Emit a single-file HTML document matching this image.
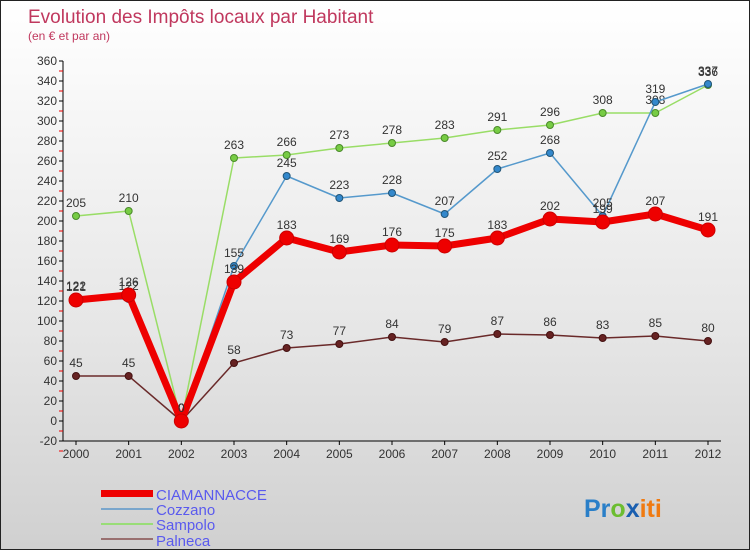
<!DOCTYPE html>
<html><head><meta charset="utf-8"><style>
body{margin:0;width:750px;height:550px;overflow:hidden;font-family:"Liberation Sans",sans-serif}
#wrap{position:relative;width:748px;height:548px;border:1px solid #222;background:linear-gradient(#ffffff,#e6e6e6 60%,#d0d0d0)}
svg{position:absolute;left:0;top:0}
</style></head><body>
<div id="wrap">
<svg id="c" width="750" height="550">
<text x="27" y="22" font-size="19" fill="#c0385e">Evolution des Impôts locaux par Habitant</text>
<text x="27" y="39" font-size="12" fill="#c0385e">(en € et par an)</text>
<g id="axes"></g><g id="series"></g>
<g>
<rect x="100" y="489" width="52" height="7" fill="#e00"/>
<text x="155" y="499" font-size="15" fill="#5a5aee">CIAMANNACCE</text>
<line x1="100" x2="152" y1="508" y2="508" stroke="#7aa6cc" stroke-width="2"/>
<text x="155" y="514" font-size="15" fill="#5a5aee">Cozzano</text>
<line x1="100" x2="152" y1="523" y2="523" stroke="#99dd77" stroke-width="2"/>
<text x="155" y="529" font-size="15" fill="#5a5aee">Sampolo</text>
<line x1="100" x2="152" y1="538" y2="538" stroke="#997070" stroke-width="2"/>
<text x="155" y="545" font-size="15" fill="#5a5aee">Palneca</text>
</g>
<text x="583" y="516" font-size="25" font-weight="bold"><tspan fill="#2a7fc8">Pr</tspan><tspan fill="#6cbd30">o</tspan><tspan fill="#1a5fb0">x</tspan><tspan fill="#f07a10">iti</tspan></text>
</svg></div>
<script>
const years=[2000,2001,2002,2003,2004,2005,2006,2007,2008,2009,2010,2011,2012];
const ciamannacce=[121,126,0,139,183,169,176,175,183,202,199,207,191];
const cozzano=[122,122,0,155,245,223,228,207,252,268,205,319,337];
const sampolo=[205,210,0,263,266,273,278,283,291,296,308,308,336];
const palneca=[45,45,0,58,73,77,84,79,87,86,83,85,80];
const yTicks=[-20,0,20,40,60,80,100,120,140,160,180,200,220,240,260,280,300,320,340,360];
const NS="http://www.w3.org/2000/svg";
const xs=i=>75+i*(632/12);
const ys=v=>420-v;
function mk(t,a,p){const e=document.createElementNS(NS,t);for(const k in a)e.setAttribute(k,a[k]);p.appendChild(e);return e;}
const ax=document.getElementById('axes');
const yl=mk('line',{x1:62,x2:62,y1:60,y2:440,stroke:'#000'},ax);


const xl=mk('line',{x1:62,x2:720,y1:440,y2:440,stroke:'#000'},ax);


yTicks.forEach(v=>{
 mk('line',{x1:58,x2:62,y1:ys(v),y2:ys(v),stroke:'#000'},ax);
 mk('line',{x1:58,x2:62,y1:ys(v)+10,y2:ys(v)+10,stroke:'#e00'},ax);
 const t=mk('text',{x:56,y:ys(v)+4,'font-size':12,'text-anchor':'end',fill:'#333'},ax);t.textContent=v;
 
 
});
years.forEach((y,i)=>{
 mk('line',{x1:xs(i),x2:xs(i),y1:440,y2:444,stroke:'#000'},ax);
 const t=mk('text',{x:xs(i),y:457,'font-size':12,'text-anchor':'middle',fill:'#333'},ax);t.textContent=y;
 
 
});
const sg=document.getElementById('series');
function draw(data,name,color,w,r,fill,stroke){
 const g=mk('g',{},sg);
 
 
 const p=mk('polyline',{points:data.map((v,i)=>xs(i)+','+ys(v)).join(' '),fill:'none',stroke:color,'stroke-width':w,'stroke-linejoin':'round'},g);
 
 
 data.forEach((v,i)=>{
  const c=mk('circle',{cx:xs(i),cy:ys(v),r:r,fill:fill,stroke:stroke,'stroke-width':1},g);
  
  
  const t=mk('text',{x:xs(i),y:ys(v)-9,'font-size':12,'text-anchor':'middle',fill:'#333'},g);t.textContent=v;
  
  
 });
}
draw(sampolo,'sampolo','#99dd66',1.5,3.5,'#77cc44','#4a8a2a');
draw(cozzano,'cozzano','#5599cc',1.5,3.5,'#3388cc','#225577');
draw(palneca,'palneca','#6a2a2a',1.5,3.5,'#662222','#441111');
draw(ciamannacce,'ciamannacce','#ee0000',7,7,'#ee0000','#cc0000');
</script>
</body></html>
